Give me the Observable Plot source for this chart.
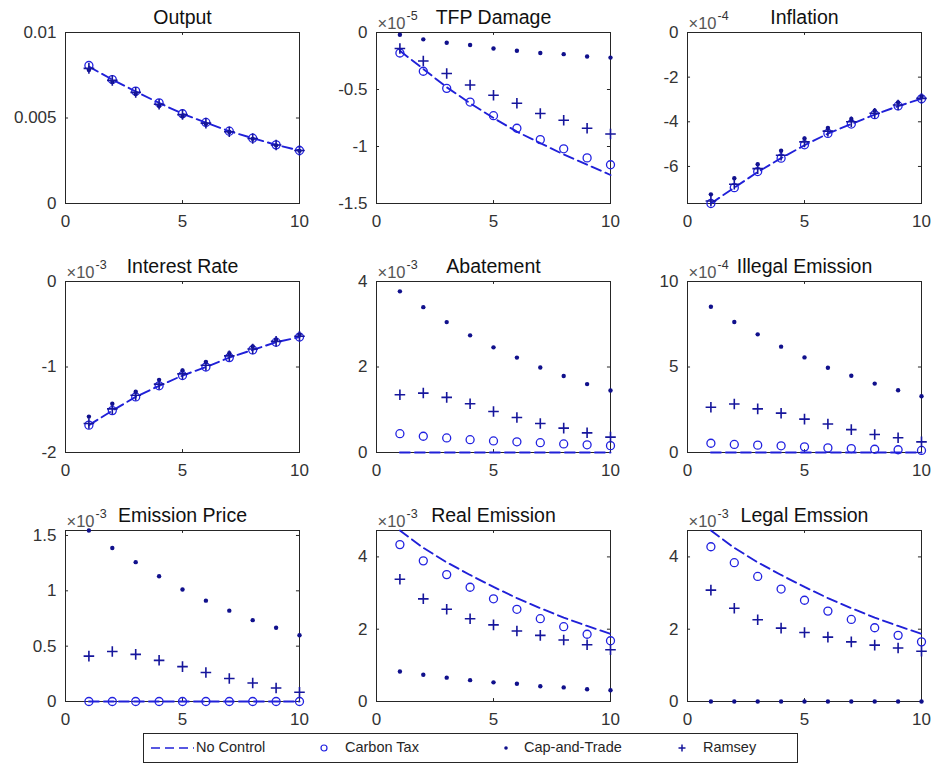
<!DOCTYPE html>
<html>
<head>
<meta charset="utf-8">
<script src="https://cdn.jsdelivr.net/npm/d3@7"></script>
<script src="https://cdn.jsdelivr.net/npm/@observablehq/plot@0.6"></script>
<style>
  body { margin: 0; background: #fff; }
  #root { position: relative; width: 936px; height: 767px; font-family: "Liberation Sans", Arial, Helvetica, sans-serif; overflow: hidden; }
  .panel { position: absolute; }
  #legend { position: absolute; left: 143px; top: 733px; width: 655px; height: 30px; border: 1px solid #262626; box-sizing: border-box; background: #fff; }
  #legend .sym { position: absolute; top: 0; }
  #legend .lab { position: absolute; top: 5px; font-size: 14.5px; color: #262626; white-space: nowrap; }
</style>
</head>
<body>
<div id="root"><div id="legend"></div></div>
<script>
// ---------------- data ----------------
const periods = [1, 2, 3, 4, 5, 6, 7, 8, 9, 10];
const xTicks = [0, 5, 10];
const seriesNames = ["No Control", "Carbon Tax", "Cap-and-Trade", "Ramsey"];

const titles = ["Output", "TFP Damage", "Inflation", "Interest Rate", "Abatement", "Illegal Emission", "Emission Price", "Real Emission", "Legal Emssion"];
const exponents = [null, "-5", "-4", "-3", "-3", "-4", "-3", "-3", "-3"];
const yDomains = [[0, 0.01], [-1.5, 0], [-7.66, 0], [-2, 0], [0, 4], [0, 10], [0, 1.545], [0, 4.73], [0, 4.73]];
const yTicks = [[0, 0.005, 0.01], [-1.5, -1, -0.5, 0], [-6, -4, -2, 0], [-2, -1, 0], [0, 2, 4], [0, 5, 10], [0, 0.5, 1, 1.5], [0, 2, 4], [0, 2, 4]];

// values as displayed on each panel's axis (after the ×10^k factor)
const noControl = [
  [0.0080, 0.00725, 0.00655, 0.00588, 0.00525, 0.00473, 0.00423, 0.00382, 0.00343, 0.0031],
  [-0.16, -0.32, -0.48, -0.62, -0.75, -0.87, -0.97, -1.07, -1.16, -1.25],
  [-7.66, -6.95, -6.25, -5.63, -5.05, -4.53, -4.1, -3.68, -3.3, -2.97],
  [-1.68, -1.51, -1.35, -1.22, -1.1, -1.0, -0.89, -0.8, -0.71, -0.65],
  [0, 0, 0, 0, 0, 0, 0, 0, 0, 0],
  [0, 0, 0, 0, 0, 0, 0, 0, 0, 0],
  [0, 0, 0, 0, 0, 0, 0, 0, 0, 0],
  [4.73, 4.25, 3.85, 3.5, 3.17, 2.86, 2.58, 2.32, 2.09, 1.87],
  [4.73, 4.25, 3.85, 3.5, 3.17, 2.86, 2.58, 2.32, 2.09, 1.87]
];
const carbonTax = [
  [0.00807, 0.00725, 0.00657, 0.00589, 0.00525, 0.00474, 0.00423, 0.00382, 0.00343, 0.0031],
  [-0.18, -0.34, -0.49, -0.61, -0.73, -0.84, -0.94, -1.02, -1.1, -1.16],
  [-7.66, -6.95, -6.23, -5.63, -5.03, -4.52, -4.1, -3.68, -3.29, -2.97],
  [-1.68, -1.51, -1.35, -1.22, -1.1, -1.0, -0.89, -0.8, -0.71, -0.65],
  [0.44, 0.38, 0.34, 0.3, 0.27, 0.25, 0.23, 0.2, 0.18, 0.16],
  [0.54, 0.47, 0.43, 0.39, 0.33, 0.27, 0.23, 0.19, 0.16, 0.12],
  [0, 0, 0, 0, 0, 0, 0, 0, 0, 0],
  [4.34, 3.89, 3.51, 3.16, 2.84, 2.55, 2.29, 2.07, 1.86, 1.68],
  [4.28, 3.84, 3.46, 3.11, 2.8, 2.5, 2.27, 2.04, 1.83, 1.65]
];
const capAndTrade = [
  [0.0078, 0.0071, 0.0064, 0.0057, 0.0051, 0.00465, 0.00418, 0.00378, 0.0034, 0.00308],
  [-0.02, -0.06, -0.09, -0.11, -0.14, -0.16, -0.18, -0.19, -0.21, -0.22],
  [-7.25, -6.53, -5.9, -5.3, -4.75, -4.28, -3.87, -3.5, -3.13, -2.87],
  [-1.58, -1.43, -1.29, -1.15, -1.04, -0.94, -0.84, -0.76, -0.68, -0.62],
  [3.77, 3.4, 3.05, 2.74, 2.46, 2.22, 1.99, 1.79, 1.6, 1.45],
  [8.52, 7.63, 6.91, 6.19, 5.56, 4.96, 4.49, 4.03, 3.64, 3.29],
  [1.545, 1.387, 1.259, 1.131, 1.012, 0.911, 0.821, 0.735, 0.667, 0.598],
  [0.83, 0.74, 0.66, 0.59, 0.53, 0.49, 0.42, 0.39, 0.34, 0.31],
  [0, 0, 0, 0, 0, 0, 0, 0, 0, 0]
];
const ramsey = [
  [0.0079, 0.0072, 0.0065, 0.0058, 0.0052, 0.0047, 0.0042, 0.0038, 0.00342, 0.0031],
  [-0.14, -0.25, -0.36, -0.46, -0.55, -0.62, -0.71, -0.77, -0.84, -0.89],
  [-7.55, -6.8, -6.1, -5.5, -4.9, -4.42, -4.0, -3.62, -3.25, -2.95],
  [-1.66, -1.49, -1.33, -1.2, -1.08, -0.98, -0.87, -0.79, -0.7, -0.64],
  [1.35, 1.39, 1.29, 1.14, 0.96, 0.82, 0.68, 0.57, 0.46, 0.36],
  [2.65, 2.84, 2.55, 2.3, 1.95, 1.67, 1.34, 1.05, 0.86, 0.62],
  [0.41, 0.452, 0.426, 0.372, 0.315, 0.262, 0.208, 0.167, 0.122, 0.083],
  [3.38, 2.84, 2.55, 2.29, 2.12, 1.95, 1.83, 1.7, 1.57, 1.43],
  [3.08, 2.58, 2.26, 2.03, 1.91, 1.78, 1.65, 1.56, 1.48, 1.39]
];

// ---------------- style / layout ----------------
const FONT = '"Liberation Sans", Arial, Helvetica, sans-serif';
const AXIS = "#262626";
const C_LINE = "#2020d8";
const C_CIRC = "#2222e0";
const C_DOT = "#10108c";
const C_PLUS = "#16169c";
const colLeft = [65, 376, 687];
const rowTop = [32, 281, 530];
const PW = 234, PH = 171;
const ML = 50, MR = 12, MT = 32, MB = 26;

const root = document.getElementById("root");

titles.forEach((title, i) => {
  const dom = yDomains[i];
  const span = dom[1] - dom[0];
  const pts = (arr) => periods.map((p, j) => ({x: p, y: arr[i][j]}));
  const tickLenY = span * 0.017;
  const tickLenX = 10 * 0.013;
  const marks = [
    Plot.frame({stroke: AXIS, strokeWidth: 1}),
    Plot.axisX({ticks: xTicks, tickSize: 0, tickPadding: 11, fontSize: 17, fill: "#333", label: null, tickFormat: d => String(d)}),
    Plot.axisY({ticks: yTicks[i], tickSize: 0, tickPadding: 9, fontSize: 17, fill: "#333", label: null, tickFormat: d => String(d)}),
    // inward ticks (MATLAB box style)
    Plot.ruleX(xTicks, {x: d => d, y1: dom[0], y2: dom[0] + tickLenY, stroke: AXIS, strokeWidth: 1}),
    Plot.ruleX(xTicks, {x: d => d, y1: dom[1], y2: dom[1] - tickLenY, stroke: AXIS, strokeWidth: 1}),
    Plot.ruleY(yTicks[i], {y: d => d, x1: 0, x2: tickLenX, stroke: AXIS, strokeWidth: 1}),
    Plot.ruleY(yTicks[i], {y: d => d, x1: 10, x2: 10 - tickLenX, stroke: AXIS, strokeWidth: 1}),
    Plot.line(pts(noControl), {x: "x", y: "y", stroke: C_LINE, strokeWidth: 1.9, strokeDasharray: "10,5"}),
    Plot.dot(pts(carbonTax), {x: "x", y: "y", r: 4, stroke: C_CIRC, strokeWidth: 1.3, fill: "none"}),
    Plot.dot(pts(capAndTrade), {x: "x", y: "y", r: 2.2, fill: C_DOT, stroke: "none"}),
    Plot.dot(pts(ramsey), {x: "x", y: "y", r: 3.5, symbol: "plus", stroke: C_PLUS, strokeWidth: 1.6}),
    Plot.text([title], {frameAnchor: "top", dy: -9, lineAnchor: "bottom", fontSize: 19.5, fill: "#111", text: d => d})
  ];
  if (exponents[i]) {
    marks.push(Plot.text(["×10"], {frameAnchor: "top-left", textAnchor: "start", lineAnchor: "bottom", dx: 1, dy: -4, fontSize: 16.5, fill: "#555", text: d => d}));
    marks.push(Plot.text([exponents[i]], {frameAnchor: "top-left", textAnchor: "start", lineAnchor: "bottom", dx: 30, dy: -13, fontSize: 12.5, fill: "#333", text: d => d}));
  }
  const chart = Plot.plot({
    width: ML + PW + MR,
    height: MT + PH + MB,
    marginLeft: ML, marginRight: MR, marginTop: MT, marginBottom: MB,
    style: {fontFamily: FONT, background: "transparent", overflow: "visible", color: AXIS},
    x: {domain: [0, 10], label: null},
    y: {domain: dom, label: null},
    marks
  });
  chart.classList.add("panel");
  chart.style.left = (colLeft[i % 3] - ML) + "px";
  chart.style.top = (rowTop[Math.floor(i / 3)] - MT) + "px";
  root.appendChild(chart);
});

// ---------------- legend ----------------
const legend = document.getElementById("legend");
const legendSym = [
  `<svg width="45" height="28"><line x1="1" y1="14" x2="44" y2="14" stroke="${C_LINE}" stroke-width="1.6" stroke-dasharray="9,5"/></svg>`,
  `<svg width="14" height="28"><circle cx="7" cy="14" r="3" fill="none" stroke="${C_CIRC}" stroke-width="1.2"/></svg>`,
  `<svg width="14" height="28"><circle cx="7" cy="14" r="1.8" fill="${C_DOT}"/></svg>`,
  `<svg width="14" height="28"><path d="M7,10.5V17.5M3.5,14H10.5" stroke="${C_PLUS}" stroke-width="1.5"/></svg>`
];
const symLeft = [6, 173, 355, 531];
const labLeft = [52, 201, 380, 559];
seriesNames.forEach((name, k) => {
  const s = document.createElement("div");
  s.className = "sym";
  s.style.left = symLeft[k] + "px";
  s.innerHTML = legendSym[k];
  legend.appendChild(s);
  const t = document.createElement("div");
  t.className = "lab";
  t.style.left = labLeft[k] + "px";
  t.textContent = name;
  legend.appendChild(t);
});
</script>
</body>
</html>
